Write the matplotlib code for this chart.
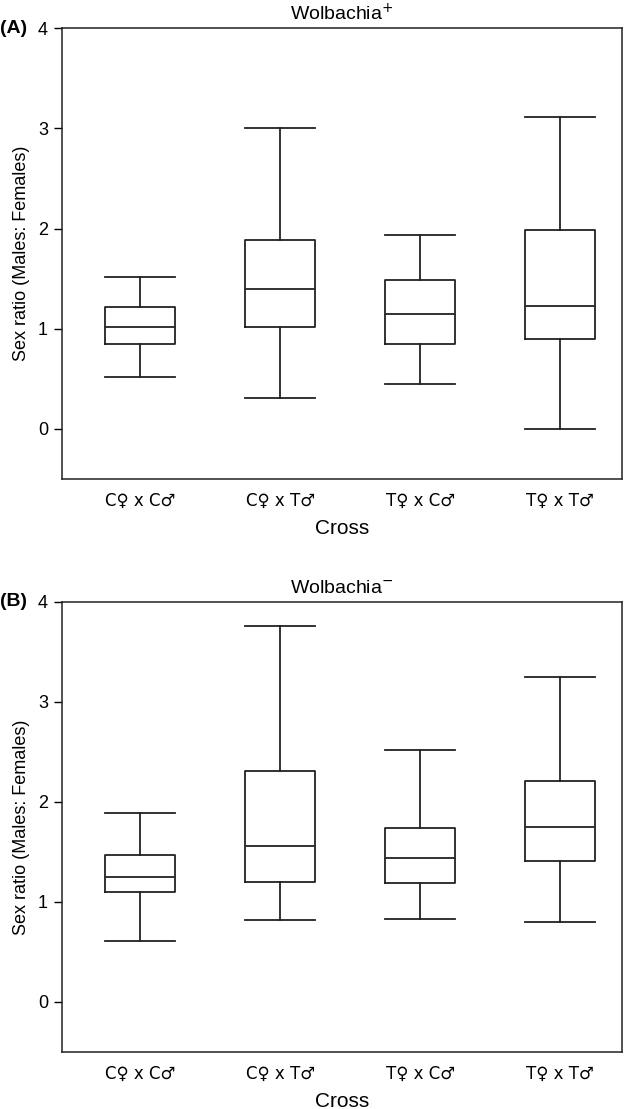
import matplotlib
matplotlib.use("Agg")
import matplotlib.pyplot as plt

plt.rcParams['font.family'] = ['Liberation Sans', 'DejaVu Sans']

crosses = ["C♀ x C♂", "C♀ x T♂", "T♀ x C♂", "T♀ x T♂"]

# Wolbachia+ (panel A): whisker low, Q1, median, Q3, whisker high
wplus_low = [0.52, 0.31, 0.45, 0.00]
wplus_q1 = [0.85, 1.02, 0.85, 0.90]
wplus_med = [1.02, 1.40, 1.15, 1.23]
wplus_q3 = [1.22, 1.89, 1.49, 1.99]
wplus_high = [1.52, 3.00, 1.94, 3.11]

# Wolbachia- (panel B)
wminus_low = [0.61, 0.82, 0.83, 0.80]
wminus_q1 = [1.10, 1.20, 1.19, 1.41]
wminus_med = [1.25, 1.56, 1.44, 1.75]
wminus_q3 = [1.47, 2.31, 1.74, 2.21]
wminus_high = [1.89, 3.76, 2.52, 3.25]

yticks = [0, 1, 2, 3, 4]


def make_stats(low, q1, med, q3, high):
    stats = []
    for i in range(len(low)):
        stats.append({"whislo": low[i], "q1": q1[i], "med": med[i],
                      "q3": q3[i], "whishi": high[i], "fliers": []})
    return stats


def draw_panel(ax, stats, title):
    line = dict(color="#222222", linewidth=1.3)
    ax.bxp(stats, positions=[1, 2, 3, 4], widths=0.5, showfliers=False,
           boxprops=line, medianprops=line, whiskerprops=line,
           capprops=line, capwidths=0.5)
    ax.set_xlim(0.44, 4.44)
    ax.set_ylim(-0.5, 4)
    ax.set_yticks(yticks)
    ax.set_xticks([1, 2, 3, 4])
    ax.set_xticklabels(crosses, fontsize=12, family=["DejaVu Sans"])
    ax.tick_params(axis="x", length=0, pad=9)
    ax.tick_params(axis="y", length=6, width=1, labelsize=13, pad=4)
    for s in ax.spines.values():
        s.set_linewidth(1.1)
        s.set_color("#222222")
    ax.set_title(title, fontsize=14, pad=6)
    ax.set_xlabel("Cross", fontsize=15, labelpad=7)
    ax.set_ylabel("Sex ratio (Males: Females)", fontsize=13, labelpad=6)


fig = plt.figure(figsize=(6.25, 11.09), dpi=100)
ax1 = fig.add_axes([0.0992, 0.568, 0.8958, 0.4065])
ax2 = fig.add_axes([0.0992, 0.0514, 0.8958, 0.406])

draw_panel(ax1, make_stats(wplus_low, wplus_q1, wplus_med, wplus_q3, wplus_high),
           "Wolbachia$^{+}$")
draw_panel(ax2, make_stats(wminus_low, wminus_q1, wminus_med, wminus_q3, wminus_high),
           "Wolbachia$^{\u2212}$")

fig.text(0.0, 0.9745, "(A)", fontsize=14, fontweight="bold", va="center", ha="left")
fig.text(0.0, 0.4574, "(B)", fontsize=14, fontweight="bold", va="center", ha="left")

fig.savefig("out.png", dpi=100)
